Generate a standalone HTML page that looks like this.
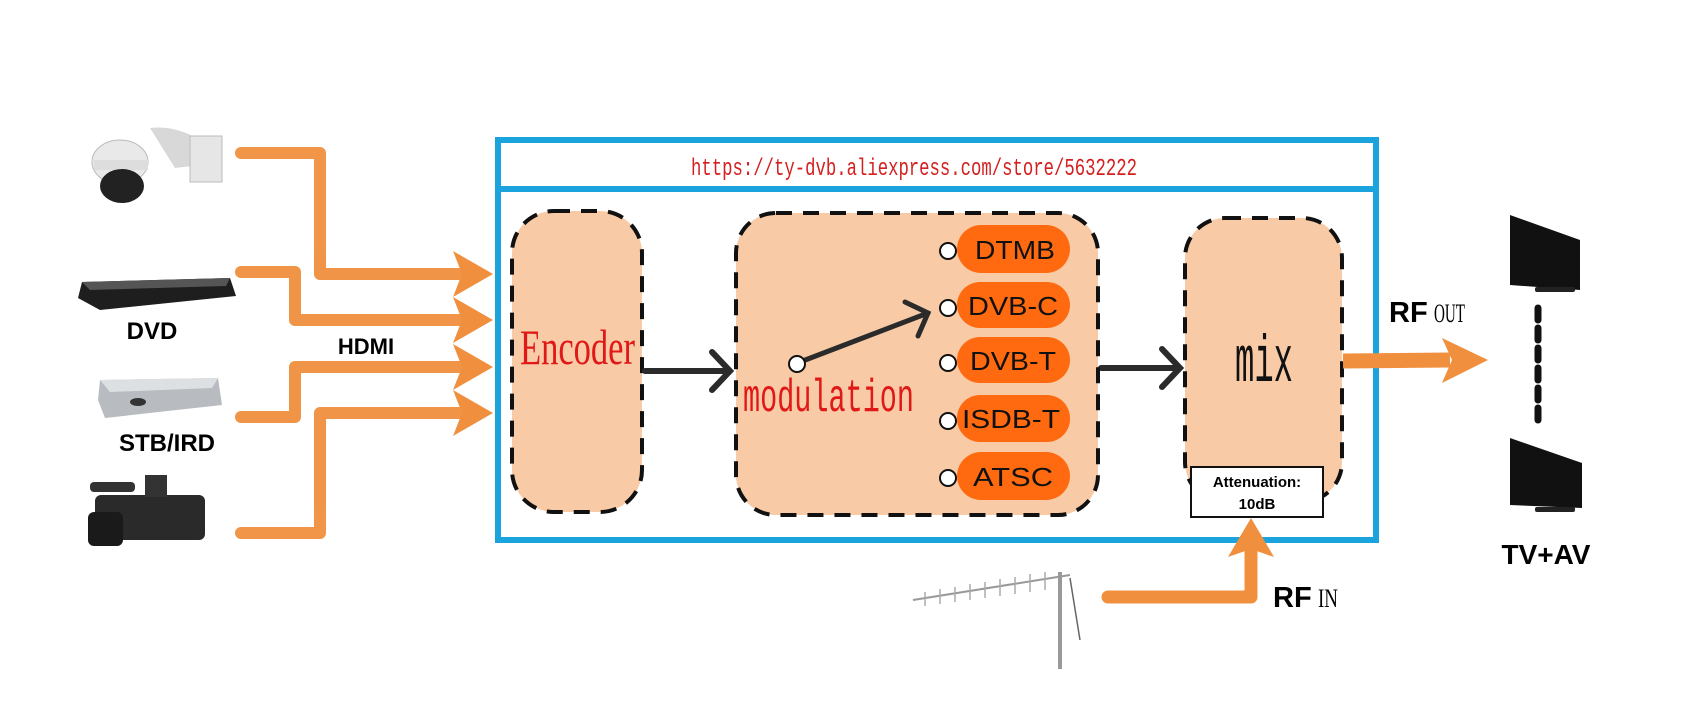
<!DOCTYPE html>
<html><head><meta charset="utf-8"><style>html,body{margin:0;padding:0;background:#fff}svg{display:block}</style></head>
<body>
<svg width="1701" height="709" viewBox="0 0 1701 709" xmlns="http://www.w3.org/2000/svg">
<rect width="1701" height="709" fill="#fff"/>
<g>
  <path d="M150 128 Q175 125 200 140 L205 155 L200 165 L175 168 Z" fill="#d8d8d8"/>
  <rect x="190" y="136" width="32" height="46" fill="#e6e6e6" stroke="#bbb"/>
  <ellipse cx="120" cy="162" rx="28" ry="22" fill="#e9e9e9" stroke="#bbb"/>
  <rect x="94" y="160" width="54" height="10" fill="#ddd"/>
  <ellipse cx="122" cy="186" rx="22" ry="17" fill="#222"/>
  <path d="M82 282 L230 278 L236 296 L100 310 L78 298 Z" fill="#1e1e1e"/>
  <path d="M82 282 L230 278 L226 286 L90 290 Z" fill="#555"/>
  <path d="M100 380 L218 378 L222 405 L105 418 L98 400 Z" fill="#b8bcc0"/>
  <path d="M100 380 L218 378 L212 388 L110 392 Z" fill="#dde0e3"/>
  <ellipse cx="138" cy="402" rx="8" ry="4" fill="#333"/>
  <rect x="95" y="495" width="110" height="45" rx="6" fill="#2a2a2a"/>
  <rect x="88" y="512" width="35" height="34" rx="6" fill="#1a1a1a"/>
  <rect x="90" y="482" width="45" height="10" rx="4" fill="#333"/>
  <rect x="145" y="475" width="22" height="22" fill="#333"/>
</g>
<text x="152" y="339" font-family="Liberation Sans" font-weight="bold" font-size="24" text-anchor="middle">DVD</text>
<text x="366" y="354" font-family="Liberation Sans" font-weight="bold" font-size="22" text-anchor="middle">HDMI</text>
<text x="167" y="451" font-family="Liberation Sans" font-weight="bold" font-size="24" text-anchor="middle">STB/IRD</text>
<g fill="none" stroke="#f0903e" stroke-width="12" stroke-linecap="round" stroke-linejoin="round" opacity="0.95">
  <path d="M241 153 H320 V274 H460"/>
  <path d="M241 272 H295 V320 H460"/>
  <path d="M241 417 H295 V367 H460"/>
  <path d="M241 533 H320 V413 H460"/>
</g>
<g fill="#f0903e">
  <path d="M493 274 L453 251 L462 274 L453 297 Z"/>
  <path d="M493 320 L453 297 L462 320 L453 343 Z"/>
  <path d="M493 367 L453 344 L462 367 L453 390 Z"/>
  <path d="M493 413 L453 390 L462 413 L453 436 Z"/>
</g>
<rect x="498" y="140" width="878" height="400" fill="none" stroke="#1aa3dc" stroke-width="6"/>
<line x1="498" y1="189" x2="1376" y2="189" stroke="#1aa3dc" stroke-width="6"/>
<text x="691" y="175" font-family="Liberation Mono" font-size="24" fill="#d42020" textLength="446" lengthAdjust="spacingAndGlyphs">https://ty-dvb.aliexpress.com/store/5632222</text>
<rect x="512" y="211" width="130" height="301" rx="42" fill="#f8cba6" stroke="#111" stroke-width="4" stroke-dasharray="16 11"/>
<text x="520" y="364" font-family="Liberation Serif" font-size="50" fill="#e01818" textLength="115" lengthAdjust="spacingAndGlyphs">Encoder</text>
<g stroke="#2b2b2b" stroke-width="6" fill="none" stroke-linecap="round">
  <line x1="645" y1="371" x2="728" y2="371"/>
  <path d="M712 352 L730 371 L712 390"/>
  <line x1="1101" y1="368" x2="1178" y2="368"/>
  <path d="M1162 349 L1180 368 L1162 387"/>
</g>
<rect x="736" y="213" width="362" height="302" rx="40" fill="#f8cba6" stroke="#111" stroke-width="4" stroke-dasharray="16 11"/>
<text x="743" y="411" font-family="Liberation Mono" font-size="46" fill="#e01818" textLength="171" lengthAdjust="spacingAndGlyphs">modulation</text>
<g fill="#ff6a10">
  <rect x="957" y="225" width="113" height="48" rx="24"/>
  <rect x="957" y="282" width="113" height="46" rx="23"/>
  <rect x="957" y="337" width="113" height="46" rx="23"/>
  <rect x="957" y="395" width="113" height="47" rx="23"/>
  <rect x="957" y="452" width="113" height="48" rx="24"/>
</g>
<g font-family="Liberation Sans" font-size="26" fill="#111" text-anchor="middle">
  <text x="1015" y="259" textLength="80" lengthAdjust="spacingAndGlyphs">DTMB</text>
  <text x="1013" y="315" textLength="90" lengthAdjust="spacingAndGlyphs">DVB-C</text>
  <text x="1013" y="370" textLength="86" lengthAdjust="spacingAndGlyphs">DVB-T</text>
  <text x="1011" y="428" textLength="98" lengthAdjust="spacingAndGlyphs">ISDB-T</text>
  <text x="1013" y="486" textLength="80" lengthAdjust="spacingAndGlyphs">ATSC</text>
</g>
<g fill="#fff" stroke="#111" stroke-width="2">
  <circle cx="948" cy="251" r="8"/><circle cx="948" cy="308" r="8"/><circle cx="948" cy="363" r="8"/><circle cx="948" cy="421" r="8"/><circle cx="948" cy="478" r="8"/>
</g>
<g stroke="#2b2b2b" stroke-width="5" fill="none" stroke-linecap="round">
  <line x1="800" y1="362" x2="928" y2="313"/>
  <path d="M905 302 L928 313 L918 336"/>
</g>
<circle cx="797" cy="364" r="8" fill="#fff" stroke="#111" stroke-width="2"/>
<rect x="1185" y="218" width="157" height="284" rx="40" fill="#f8cba6" stroke="#111" stroke-width="4" stroke-dasharray="16 11"/>
<text x="1235" y="381" font-family="Liberation Mono" font-size="66" fill="#111" textLength="58" lengthAdjust="spacingAndGlyphs">mix</text>
<rect x="1191" y="467" width="132" height="50" fill="#fff" stroke="#111" stroke-width="2"/>
<text x="1257" y="487" font-family="Liberation Sans" font-weight="bold" font-size="15" text-anchor="middle">Attenuation:</text>
<text x="1257" y="509" font-family="Liberation Sans" font-weight="bold" font-size="15" text-anchor="middle">10dB</text>
<line x1="1343" y1="361" x2="1450" y2="360" stroke="#f0903e" stroke-width="15"/>
<path d="M1488 360 L1442 338 L1452 360 L1442 383 Z" fill="#f0903e"/>
<text x="1389" y="322" font-family="Liberation Sans" font-weight="bold" font-size="29">RF</text>
<text x="1434" y="322" font-family="Liberation Serif" font-size="26" textLength="31" lengthAdjust="spacingAndGlyphs">OUT</text>
<g>
  <path d="M1510 215 L1580 240 L1580 290 L1510 285 Z" fill="#111"/>
  <rect x="1535" y="287" width="40" height="5" rx="2" fill="#222"/>
  <path d="M1510 438 L1582 463 L1582 508 L1510 505 Z" fill="#111"/>
  <rect x="1535" y="507" width="40" height="5" rx="2" fill="#222"/>
</g>
<line x1="1538" y1="308" x2="1538" y2="424" stroke="#111" stroke-width="7" stroke-dasharray="12 8" stroke-linecap="round"/>
<text x="1546" y="564" font-family="Liberation Sans" font-weight="bold" font-size="28" text-anchor="middle">TV+AV</text>
<g stroke="#999" stroke-width="2">
  <line x1="913" y1="600" x2="1070" y2="575"/>
  <line x1="1060" y1="572" x2="1060" y2="669" stroke-width="4"/>
  <line x1="1070" y1="578" x2="1080" y2="640" stroke="#666" stroke-width="1.5"/>
</g>
<g stroke="#aaa" stroke-width="1.5">
  <line x1="925" y1="592" x2="925" y2="606"/><line x1="940" y1="589" x2="940" y2="604"/><line x1="955" y1="587" x2="955" y2="602"/><line x1="970" y1="584" x2="970" y2="600"/><line x1="985" y1="582" x2="985" y2="598"/><line x1="1000" y1="579" x2="1000" y2="596"/><line x1="1015" y1="577" x2="1015" y2="594"/><line x1="1030" y1="574" x2="1030" y2="592"/><line x1="1045" y1="572" x2="1045" y2="590"/>
</g>
<path d="M1108 597 H1251 V540" fill="none" stroke="#f0903e" stroke-width="13" stroke-linecap="round" stroke-linejoin="round"/>
<path d="M1251 518 L1228 557 L1251 549 L1274 557 Z" fill="#f0903e"/>
<text x="1273" y="607" font-family="Liberation Sans" font-weight="bold" font-size="29">RF</text>
<text x="1318" y="607" font-family="Liberation Serif" font-size="26" textLength="20" lengthAdjust="spacingAndGlyphs">IN</text>
</svg>
</body></html>
